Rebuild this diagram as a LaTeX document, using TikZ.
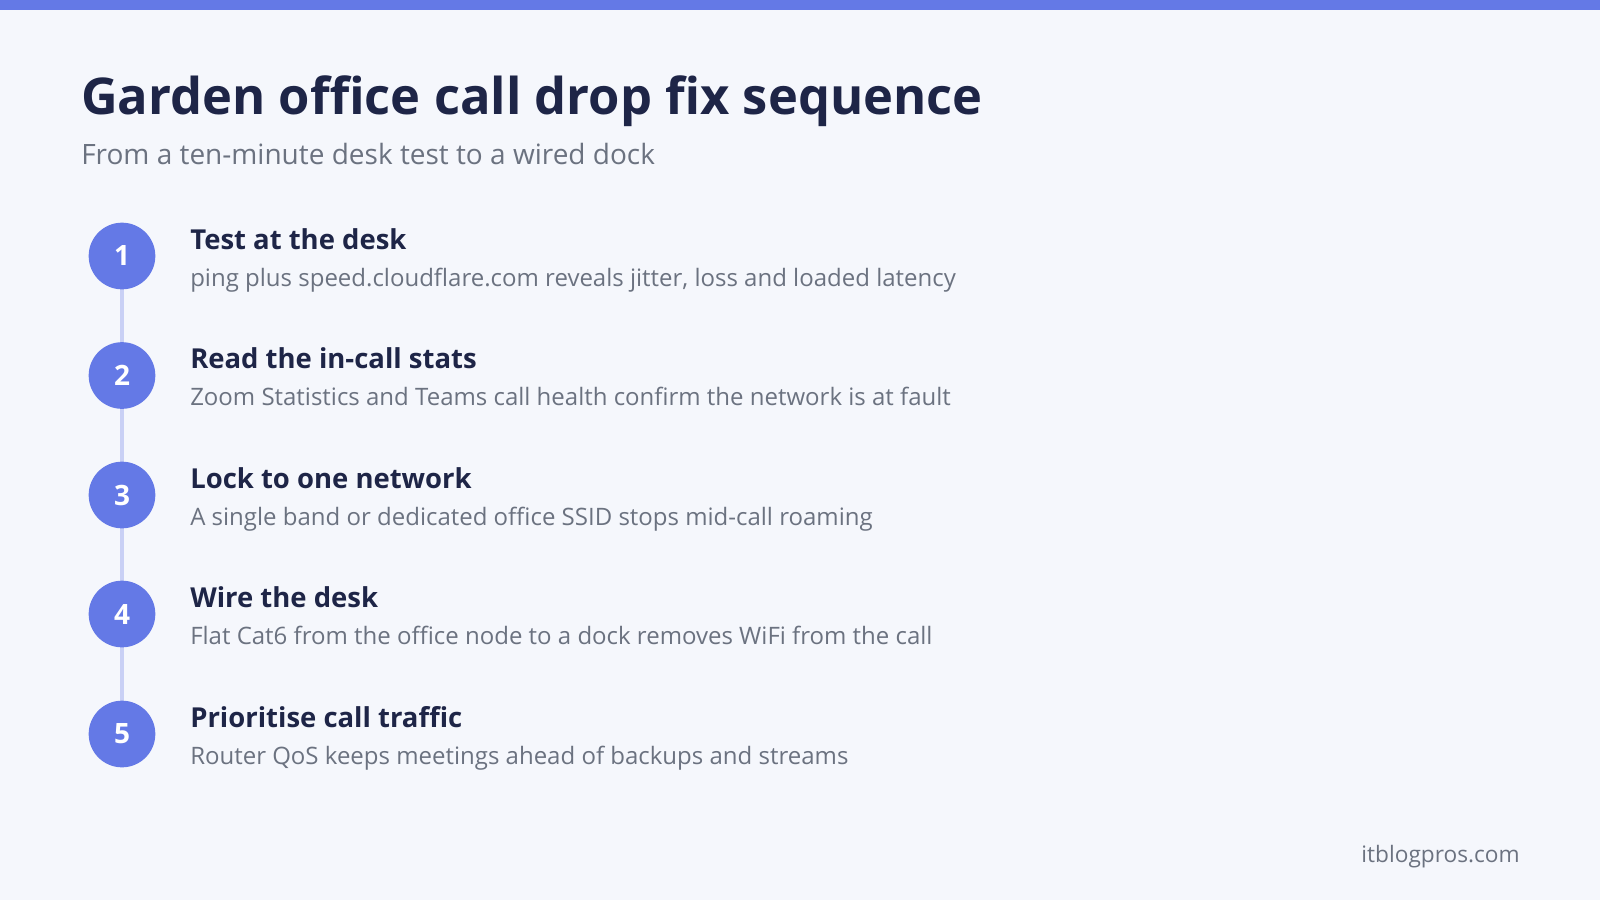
\documentclass[tikz,border=0pt]{standalone}
\usepackage{fontspec}
\setmainfont{Open Sans}
\usetikzlibrary{positioning}
\definecolor{bgcol}{HTML}{F5F7FC}
\definecolor{accent}{HTML}{6479E6}
\definecolor{railcol}{HTML}{C9D0F5}
\definecolor{inkcol}{HTML}{1E2547}
\definecolor{greycol}{HTML}{6B7280}
\tikzset{
  step circle/.style={circle, fill=accent, minimum size=50pt, inner sep=0,
    text=white, font=\fontsize{21}{21}\selectfont\bfseries},
  step title/.style={anchor=base west, inner sep=0, text=inkcol,
    font=\fontsize{20.6}{24}\selectfont\bfseries},
  step text/.style={anchor=base west, inner sep=0, text=greycol,
    font=\fontsize{18}{21}\selectfont},
}
\begin{document}
\begin{tikzpicture}[x=0.75pt, y=-0.75pt]
\useasboundingbox (0,0) rectangle (1600,900);
\fill[bgcol] (0,0) rectangle (1600,900);
\fill[accent] (0,0) rectangle (1600,10);
% heading
\node (title) [anchor=base west, inner sep=0, text=inkcol,
  font=\fontsize{38}{40}\selectfont\bfseries] at (81,114) {Garden office call drop fix sequence};
\node (subtitle) [anchor=base west, inner sep=0, text=greycol,
  font=\fontsize{21}{24}\selectfont] at (81,164) {From a ten-minute desk test to a wired dock};
% rail behind the circles
\draw[railcol, line width=2.5pt] (122,256) -- (122,734);
% steps
\foreach \n/\y/\head/\desc in {
  1/256/Test at the desk/ping plus speed.cloudflare.com reveals jitter{,} loss and loaded latency,
  2/375.5/Read the in-call stats/Zoom Statistics and Teams call health confirm the network is at fault,
  3/495/Lock to one network/A single band or dedicated office SSID stops mid-call roaming,
  4/614/Wire the desk/Flat Cat6 from the office node to a dock removes WiFi from the call,
  5/734/Prioritise call traffic/Router QoS keeps meetings ahead of backups and streams}{
  \node (step\n) [step circle] at (122,\y) {\n};
  \node (head\n) [step title] at (190,\y-7) {\head};
  \node (desc\n) [step text] at (190,\y+30) {\desc};
}
\node (site) [anchor=base east, inner sep=0, text=greycol,
  font=\fontsize{17}{20}\selectfont] at (1520,862) {itblogpros.com};
\end{tikzpicture}
\end{document}
